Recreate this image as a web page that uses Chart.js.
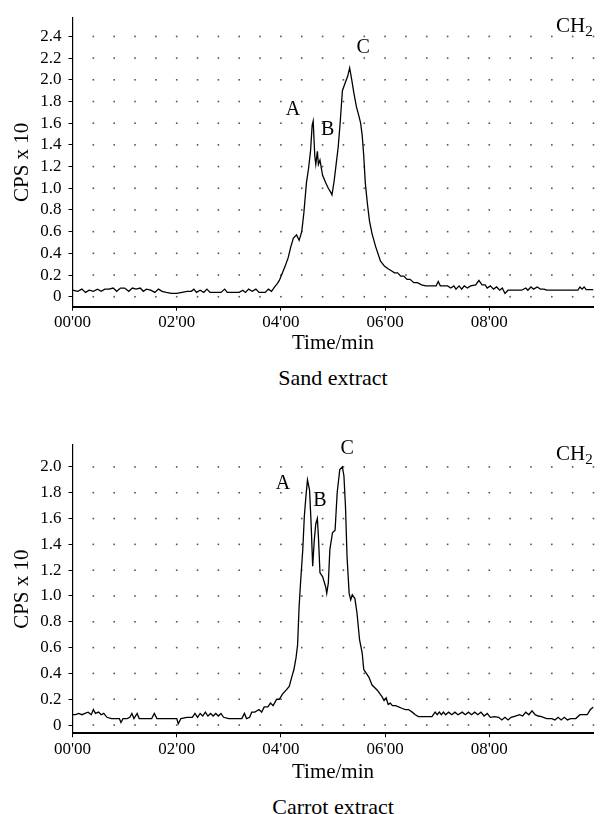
<!DOCTYPE html>
<html>
<head>
<meta charset="utf-8">
<script src="https://cdn.jsdelivr.net/npm/chart.js@4/dist/chart.umd.min.js"></script>
<style>
    body { margin: 0; background: #fff; width: 608px; height: 814px; position: relative; overflow: hidden; font-family: "Liberation Serif", serif; color: #000; }
    canvas { position: absolute; left: 0; }
    .cap { position: absolute; left: 233px; width: 200px; text-align: center; font-size: 22px; line-height: 24px; }
    .ch { position: absolute; left: 556px; font-size: 21px; line-height: 24px; }
    .ch sub { font-size: 15px; vertical-align: -4px; line-height: 0; }
</style>
</head>
<body>
<canvas id="sandChart" width="608" height="356" style="top:0px"></canvas>
<canvas id="carrotChart" width="608" height="385" style="top:400px"></canvas>
<div class="ch" style="top:13px">CH<sub>2</sub></div>
<div class="ch" style="top:441px">CH<sub>2</sub></div>
<div class="cap" style="top:366px">Sand extract</div>
<div class="cap" style="top:795px">Carrot extract</div>
<script>
// Eje de tiempo (minutos) y etiquetas
const timeTicks = [0, 2, 4, 6, 8];
const timeLabels = ["00'00", "02'00", "04'00", "06'00", "08'00"];

// Ticks del eje Y
const sandTicks = [0, 0.2, 0.4, 0.6, 0.8, 1.0, 1.2, 1.4, 1.6, 1.8, 2.0, 2.2, 2.4];
const carrotTicks = [0, 0.2, 0.4, 0.6, 0.8, 1.0, 1.2, 1.4, 1.6, 1.8, 2.0];

// Sand extract
const sandTime = [0.00, 0.10, 0.18, 0.25, 0.32, 0.40, 0.48, 0.55, 0.62, 0.70, 0.78, 0.85, 0.92, 1.00, 1.08, 1.15, 1.22, 1.30, 1.36, 1.42,
    1.50, 1.58, 1.65, 1.72, 1.80, 1.90, 2.00, 2.10, 2.20, 2.28, 2.33, 2.38, 2.45, 2.52, 2.58, 2.64, 2.75, 2.85, 2.92, 2.97,
    3.10, 3.20, 3.27, 3.32, 3.38, 3.45, 3.52, 3.58, 3.70, 3.76, 3.82, 3.88, 3.93, 3.97, 4.03, 4.08, 4.14, 4.19, 4.24, 4.30,
    4.35, 4.40, 4.44, 4.49, 4.53, 4.57, 4.60, 4.62, 4.65, 4.67, 4.70, 4.72, 4.75, 4.80, 4.86, 4.91, 4.96, 4.98, 5.02, 5.06,
    5.10, 5.14, 5.18, 5.24, 5.28, 5.32, 5.36, 5.40, 5.45, 5.50, 5.53, 5.56, 5.59, 5.62, 5.66, 5.70, 5.75, 5.82, 5.91, 5.99,
    6.05, 6.12, 6.18, 6.24, 6.30, 6.36, 6.42, 6.48, 6.55, 6.62, 6.70, 6.78, 6.90, 6.98, 7.02, 7.06, 7.20, 7.26, 7.32, 7.36,
    7.42, 7.47, 7.52, 7.58, 7.64, 7.74, 7.80, 7.86, 7.92, 7.96, 8.02, 8.08, 8.14, 8.20, 8.25, 8.30, 8.36, 8.50, 8.62, 8.70,
    8.74, 8.80, 8.85, 8.92, 8.98, 9.05, 9.10, 9.40, 9.70, 9.74, 9.78, 9.82, 9.86, 10.0];
const sandCps = [0.06, 0.05, 0.07, 0.04, 0.06, 0.05, 0.07, 0.05, 0.07, 0.07, 0.08, 0.05, 0.08, 0.08, 0.05, 0.08, 0.07, 0.08, 0.05, 0.07,
    0.06, 0.04, 0.07, 0.05, 0.04, 0.03, 0.03, 0.04, 0.05, 0.05, 0.07, 0.04, 0.06, 0.04, 0.07, 0.04, 0.04, 0.04, 0.07, 0.04,
    0.04, 0.04, 0.06, 0.04, 0.07, 0.05, 0.07, 0.04, 0.04, 0.07, 0.05, 0.09, 0.12, 0.15, 0.22, 0.28, 0.36, 0.46, 0.54, 0.57,
    0.52, 0.60, 0.77, 1.05, 1.18, 1.35, 1.58, 1.62, 1.30, 1.22, 1.34, 1.22, 1.26, 1.12, 1.05, 1.00, 0.96, 0.94, 1.06, 1.22,
    1.38, 1.62, 1.90, 1.98, 2.03, 2.11, 2.00, 1.88, 1.75, 1.66, 1.60, 1.49, 1.30, 1.05, 0.86, 0.70, 0.58, 0.46, 0.33, 0.28,
    0.26, 0.24, 0.22, 0.22, 0.19, 0.19, 0.16, 0.16, 0.13, 0.13, 0.11, 0.10, 0.10, 0.10, 0.14, 0.10, 0.10, 0.08, 0.10, 0.07,
    0.10, 0.07, 0.10, 0.08, 0.10, 0.11, 0.15, 0.11, 0.11, 0.08, 0.10, 0.07, 0.09, 0.06, 0.08, 0.03, 0.06, 0.06, 0.06, 0.08,
    0.06, 0.09, 0.07, 0.09, 0.07, 0.07, 0.06, 0.06, 0.06, 0.09, 0.07, 0.09, 0.065, 0.065];

// Carrot extract
const carrotTime = [0.00, 0.06, 0.12, 0.18, 0.24, 0.30, 0.36, 0.40, 0.44, 0.50, 0.55, 0.60, 0.66, 0.75, 0.85, 0.90, 0.93, 0.97, 1.05, 1.10,
    1.14, 1.18, 1.24, 1.28, 1.40, 1.52, 1.57, 1.62, 1.80, 2.00, 2.03, 2.08, 2.20, 2.30, 2.35, 2.40, 2.45, 2.50, 2.55, 2.60,
    2.65, 2.70, 2.75, 2.80, 2.85, 2.90, 3.00, 3.20, 3.25, 3.30, 3.34, 3.40, 3.44, 3.50, 3.58, 3.63, 3.68, 3.75, 3.80, 3.85,
    3.92, 3.97, 4.03, 4.10, 4.16, 4.20, 4.25, 4.29, 4.32, 4.35, 4.38, 4.42, 4.45, 4.48, 4.51, 4.55, 4.58, 4.61, 4.64, 4.67,
    4.70, 4.72, 4.75, 4.80, 4.86, 4.88, 4.91, 4.94, 4.99, 5.04, 5.08, 5.13, 5.18, 5.21, 5.24, 5.27, 5.31, 5.34, 5.37, 5.42,
    5.46, 5.51, 5.56, 5.59, 5.64, 5.69, 5.75, 5.85, 5.94, 5.98, 6.02, 6.06, 6.10, 6.14, 6.20, 6.26, 6.32, 6.39, 6.45, 6.52,
    6.58, 6.64, 6.80, 6.90, 6.96, 7.00, 7.04, 7.08, 7.12, 7.16, 7.22, 7.28, 7.34, 7.40, 7.48, 7.54, 7.60, 7.66, 7.72, 7.78,
    7.84, 7.90, 7.96, 8.02, 8.10, 8.18, 8.24, 8.30, 8.36, 8.42, 8.50, 8.58, 8.64, 8.70, 8.76, 8.82, 8.88, 8.94, 9.00, 9.10,
    9.20, 9.26, 9.32, 9.38, 9.44, 9.50, 9.56, 9.66, 9.74, 9.88, 9.94, 10.0];
const carrotCps = [0.08, 0.08, 0.09, 0.08, 0.09, 0.10, 0.08, 0.12, 0.09, 0.10, 0.08, 0.09, 0.06, 0.05, 0.05, 0.05, 0.02, 0.05, 0.05, 0.06,
    0.09, 0.05, 0.09, 0.05, 0.05, 0.05, 0.09, 0.05, 0.05, 0.05, 0.01, 0.05, 0.06, 0.06, 0.09, 0.06, 0.09, 0.07, 0.10, 0.07,
    0.09, 0.07, 0.09, 0.07, 0.09, 0.06, 0.05, 0.05, 0.05, 0.09, 0.05, 0.06, 0.10, 0.10, 0.12, 0.10, 0.14, 0.14, 0.17, 0.15,
    0.20, 0.20, 0.24, 0.27, 0.30, 0.36, 0.43, 0.52, 0.62, 0.92, 1.12, 1.36, 1.62, 1.77, 1.90, 1.82, 1.56, 1.23, 1.43, 1.56,
    1.60, 1.46, 1.18, 1.15, 1.07, 1.02, 1.10, 1.36, 1.49, 1.51, 1.80, 1.98, 2.00, 1.93, 1.69, 1.30, 1.02, 0.97, 1.01, 0.98,
    0.87, 0.66, 0.56, 0.43, 0.40, 0.37, 0.31, 0.27, 0.22, 0.19, 0.21, 0.16, 0.17, 0.15, 0.15, 0.14, 0.13, 0.12, 0.12, 0.10,
    0.08, 0.065, 0.065, 0.065, 0.10, 0.08, 0.10, 0.08, 0.10, 0.08, 0.10, 0.08, 0.10, 0.08, 0.10, 0.08, 0.10, 0.08, 0.10, 0.08,
    0.10, 0.07, 0.09, 0.06, 0.065, 0.06, 0.04, 0.06, 0.04, 0.06, 0.07, 0.08, 0.07, 0.10, 0.08, 0.11, 0.08, 0.07, 0.065, 0.05,
    0.05, 0.04, 0.06, 0.04, 0.06, 0.04, 0.05, 0.05, 0.08, 0.08, 0.12, 0.14];

const FONT = '"Liberation Serif", serif';

// Rejilla de puntos cada 0.4 min y 0.2 unidades
const dotGrid = {
    id: 'dotGrid',
    beforeDatasetsDraw(chart, args, opts) {
        const { ctx, scales: { x, y } } = chart;
        ctx.save();
        ctx.fillStyle = opts.color;
        for (let j = 0; j <= opts.rows; j++) {
            const py = y.getPixelForValue(j * 0.2);
            for (let i = 1; i <= 25; i++) {
                const px = x.getPixelForValue(i * 0.4);
                ctx.fillRect(px - 0.8, py - 0.8, 1.6, 1.6);
            }
        }
        ctx.restore();
    }
};

// Etiquetas de picos A, B, C
const peakLabels = {
    id: 'peakLabels',
    afterDatasetsDraw(chart, args, opts) {
        const { ctx, scales: { x, y } } = chart;
        ctx.save();
        ctx.font = '20px ' + FONT;
        ctx.fillStyle = '#000';
        ctx.textAlign = 'center';
        ctx.textBaseline = 'middle';
        opts.items.forEach(it => ctx.fillText(it.text, x.getPixelForValue(it.t), y.getPixelForValue(it.v)));
        ctx.restore();
    }
};

function makeChart(id, time, cps, ticks, yMin, yMax, padTop, axisH, labels) {
    const ctx = document.getElementById(id).getContext('2d');
    return new Chart(ctx, {
        type: 'line',
        data: {
            datasets: [{
                data: time.map((t, i) => ({ x: t, y: cps[i] })),
                borderColor: '#000',
                borderWidth: 1.3,
                pointRadius: 0,
                tension: 0,
                fill: false
            }]
        },
        options: {
            responsive: false,
            animation: false,
            devicePixelRatio: 1,
            layout: { padding: { top: padTop, right: 14.5, left: 0, bottom: 0 } },
            plugins: {
                legend: { display: false },
                tooltip: { enabled: false },
                dotGrid: { color: '#555', rows: ticks.length - 1 },
                peakLabels: { items: labels }
            },
            scales: {
                x: {
                    type: 'linear',
                    min: 0,
                    max: 10,
                    afterFit: s => { s.height = axisH; },
                    afterBuildTicks: s => { s.ticks = timeTicks.map(v => ({ value: v })); },
                    ticks: {
                        autoSkip: false,
                        maxRotation: 0,
                        padding: 2,
                        color: '#000',
                        font: { family: FONT, size: 17 },
                        callback: (v, i) => timeLabels[i]
                    },
                    grid: { drawOnChartArea: false, tickLength: 4, color: '#000' },
                    border: { color: '#000', width: 2 },
                    title: { display: true, text: 'Time/min', color: '#000', font: { family: FONT, size: 21 }, padding: 0 }
                },
                y: {
                    min: yMin,
                    max: yMax,
                    afterFit: s => { s.width = 72.5; },
                    afterBuildTicks: s => { s.ticks = ticks.map(v => ({ value: v })); },
                    ticks: {
                        padding: 7,
                        color: '#000',
                        font: { family: FONT, size: 17 },
                        callback: v => v === 0 ? '0' : v.toFixed(1)
                    },
                    grid: { drawOnChartArea: false, tickLength: 4, color: '#000' },
                    border: { color: '#000', width: 1.2, dash: [4, 2] },
                    title: { display: true, text: 'CPS x 10', color: '#000', font: { family: FONT, size: 21 }, padding: { top: 10, bottom: 0 } }
                }
            }
        },
        plugins: [dotGrid, peakLabels]
    });
}

makeChart('sandChart', sandTime, sandCps, sandTicks, -0.092, 2.57, 18, 49.3, [
    { text: 'A', t: 4.23, v: 1.72 },
    { text: 'B', t: 4.90, v: 1.54 },
    { text: 'C', t: 5.58, v: 2.30 }
]);
makeChart('carrotChart', carrotTime, carrotCps, carrotTicks, -0.064, 2.17, 45, 51.7, [
    { text: 'A', t: 4.04, v: 1.87 },
    { text: 'B', t: 4.75, v: 1.74 },
    { text: 'C', t: 5.27, v: 2.14 }
]);
</script>
</body>
</html>
